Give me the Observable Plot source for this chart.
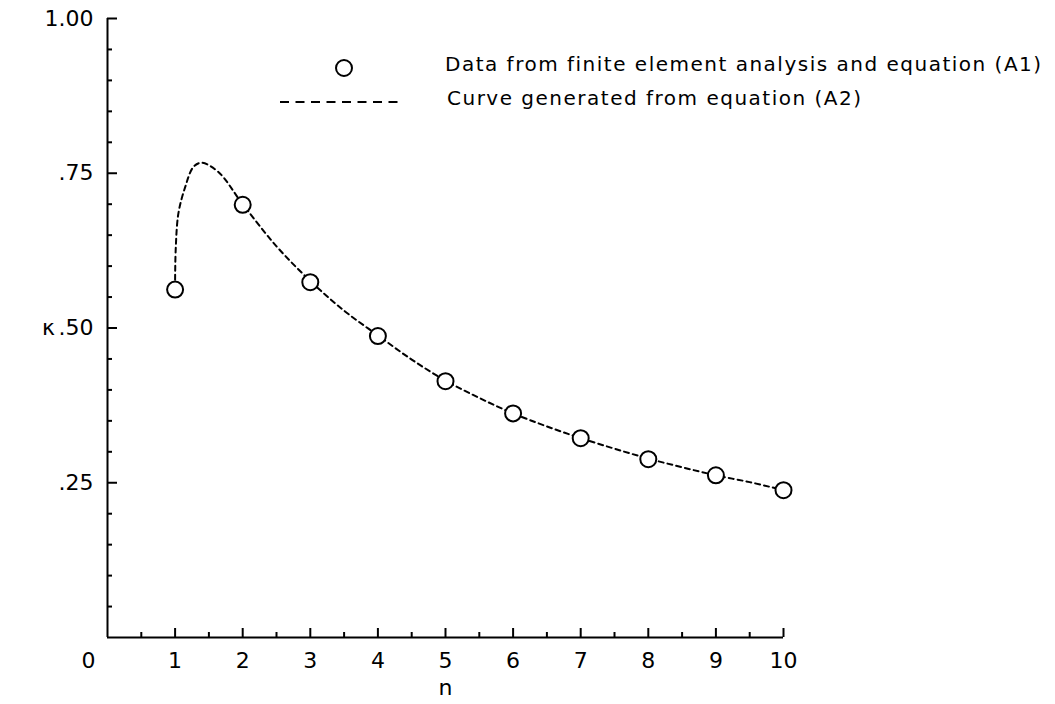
<!DOCTYPE html>
<html>
<head>
<meta charset="utf-8">
<script src="https://cdn.jsdelivr.net/npm/d3@7"></script>
<script src="https://cdn.jsdelivr.net/npm/@observablehq/plot@0.6"></script>
<style>
  html, body { margin: 0; padding: 0; background: #fff; }
  #chart { width: 1055px; height: 704px; }
</style>
</head>
<body>
<div id="chart"></div>
<script>
// Data points (circles): n and kappa
const pointN = [1, 2, 3, 4, 5, 6, 7, 8, 9, 10];
const pointK = [0.562, 0.699, 0.574, 0.487, 0.414, 0.362, 0.322, 0.288, 0.262, 0.238];

// Curve from equation (A2)
const curveN = [1.0, 1.01, 1.05, 1.15, 1.27, 1.39, 1.64, 2.0, 2.5, 3, 3.5, 4, 4.5, 5, 5.5, 6, 6.5, 7, 7.5, 8, 8.5, 9, 9.5, 10];
const curveK = [0.578, 0.63, 0.686, 0.728, 0.760, 0.767, 0.752, 0.700, 0.632, 0.576, 0.528, 0.488, 0.449, 0.415, 0.387, 0.362, 0.341, 0.322, 0.305, 0.289, 0.275, 0.262, 0.251, 0.238];

// Ticks
const xMajor = [1, 2, 3, 4, 5, 6, 7, 8, 9, 10];
const xMinor = [0.5, 1.5, 2.5, 3.5, 4.5, 5.5, 6.5, 7.5, 8.5, 9.5];
const xZero = [0];
const yMajor = [0.25, 0.5, 0.75, 1.0];
const yMinor = [0.05, 0.1, 0.15, 0.2, 0.3, 0.35, 0.4, 0.45, 0.55, 0.6, 0.65, 0.7, 0.8, 0.85, 0.9, 0.95];
const yLabels = [".25", ".50", ".75", "1.00"];

const xLabel = "n";
const yLabel = "κ";
const legendPoints = "Data from finite element analysis and equation (A1)";
const legendCurve = "Curve generated from equation (A2)";

const points = pointN.map((n, i) => ({n, k: pointK[i]}));
const curve = curveN.map((n, i) => ({n, k: curveK[i]}));

const font = "'DejaVu Sans', sans-serif";
const fs = 22;

const plot = Plot.plot({
  width: 1055,
  height: 704,
  marginLeft: 107,
  marginRight: 272,
  marginTop: 18,
  marginBottom: 67,
  style: {fontFamily: font, fontSize: fs + "px", color: "#000", background: "#fff", overflow: "visible"},
  x: {domain: [0, 10]},
  y: {domain: [0, 1]},
  marks: [
    // axis lines
    Plot.ruleY([0], {x1: 0, x2: 10, stroke: "#000", strokeWidth: 2}),
    Plot.ruleX([0], {y1: 0, y2: 1, stroke: "#000", strokeWidth: 2}),
    // x axis
    Plot.axisX({ticks: xMajor, tickSize: -9, tickPadding: 24, tickFormat: d => String(d), label: null, strokeWidth: 2, fontSize: fs}),
    Plot.axisX({ticks: xMinor, tickSize: -5, tickFormat: () => "", label: null, strokeWidth: 2}),
    Plot.axisX({ticks: xZero, tickSize: 0, tickPadding: 15, dx: -19, tickFormat: d => String(d), label: null, fontSize: fs}),
    // y axis
    Plot.axisY({ticks: yMajor, tickSize: -10, tickPadding: 24, tickFormat: d => yLabels[yMajor.indexOf(d)], label: null, strokeWidth: 2, fontSize: fs}),
    Plot.axisY({ticks: yMinor, tickSize: -5, tickFormat: () => "", label: null, strokeWidth: 2}),
    // axis labels
    Plot.text([xLabel], {frameAnchor: "bottom", text: d => d, dy: 50, lineAnchor: "middle", fontSize: fs}),
    Plot.text([yLabel], {frameAnchor: "left", text: d => d, dx: -59, textAnchor: "middle", fontSize: fs}),
    // curve and points
    Plot.line(curve, {x: "n", y: "k", curve: "catmull-rom", stroke: "#000", strokeWidth: 2, strokeDasharray: "5,4"}),
    Plot.dot(points, {x: "n", y: "k", r: 8, stroke: "#000", strokeWidth: 2, fill: "#fff"})
  ]
});

// Legend appended to the same SVG
const svg = d3.select(plot);
const lg = svg.append("g")
  .attr("font-family", font)
  .attr("font-size", 20)
  .attr("letter-spacing", "1.5px")
  .attr("text-anchor", "start");
lg.append("circle").attr("cx", 344).attr("cy", 68).attr("r", 8)
  .attr("fill", "#fff").attr("stroke", "#000").attr("stroke-width", 2);
lg.append("text").attr("x", 445).attr("y", 71).attr("text-anchor", "start").text(legendPoints);
lg.append("line").attr("x1", 280).attr("x2", 402).attr("y1", 102).attr("y2", 102)
  .attr("stroke", "#000").attr("stroke-width", 2).attr("stroke-dasharray", "9,6.5");
lg.append("text").attr("x", 447).attr("y", 105).attr("text-anchor", "start").text(legendCurve);

document.getElementById("chart").appendChild(plot);
</script>
</body>
</html>
